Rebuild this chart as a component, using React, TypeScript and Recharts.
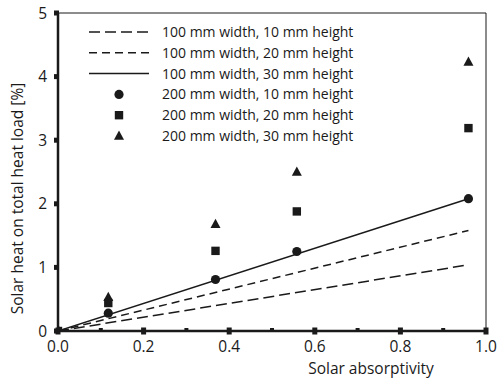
import React from 'react';
import { ComposedChart, Line, Scatter, XAxis, YAxis, ReferenceLine, Legend } from 'recharts';

const xTicks = [0, 0.1, 0.2, 0.3, 0.4, 0.5, 0.6, 0.7, 0.8, 0.9, 1.0];
const xMajorLabels = ['0.0', '', '0.2', '', '0.4', '', '0.6', '', '0.8', '', '1.0'];
const yTicks = [0, 1, 2, 3, 4, 5];

const absorptivity = [0, 0.1175, 0.368, 0.558, 0.959];
const w200h10 = [0, 0.28, 0.81, 1.25, 2.08];
const w200h20 = [0, 0.44, 1.26, 1.88, 3.19];
const w200h30 = [0, 0.53, 1.68, 2.5, 4.23];

const lineX = [0, 0.959];
const w100h10 = [0, 1.04];
const w100h20 = [0, 1.58];
const w100h30 = [0, 2.08];

const legendLabels = [
  '100 mm width, 10 mm height',
  '100 mm width, 20 mm height',
  '100 mm width, 30 mm height',
  '200 mm width, 10 mm height',
  '200 mm width, 20 mm height',
  '200 mm width, 30 mm height',
];

const FONT = "'Open Sans', sans-serif";
const INK = '#1a1a1a';

const toPts = (xs: number[], ys: number[]) => xs.map((x, i) => ({ x, y: ys[i] }));

const lineData10 = toPts(lineX, w100h10);
const lineData20 = toPts(lineX, w100h20);
const lineData30 = toPts(lineX, w100h30);
const scat10 = toPts(absorptivity, w200h10);
const scat20 = toPts(absorptivity, w200h20);
const scat30 = toPts(absorptivity, w200h30);

const Circle = (p: any) => <circle cx={p.cx} cy={p.cy} r={4.6} fill={INK} />;
const Square = (p: any) => <rect x={p.cx - 4.2} y={p.cy - 4.2} width={8.4} height={8.4} fill={INK} />;
const Tri = (p: any) => (
  <polygon points={`${p.cx},${p.cy - 5.5} ${p.cx + 5},${p.cy + 3.8} ${p.cx - 5},${p.cy + 3.8}`} fill={INK} />
);

const XTick = (props: any) => {
  const { x, y, index } = props;
  const label = xMajorLabels[index];
  const major = label !== '';
  return (
    <g>
      {major ? (
        <rect x={x - 2.5} y={y - 3.5} width={5} height={7} fill={INK} />
      ) : (
        <rect x={x - 2} y={y - 3} width={4} height={3} fill={INK} />
      )}
      {major && (
        <text x={x} y={y + 21} textAnchor="middle" fontFamily={FONT} fontSize={15.5} fill={INK}>
          {label}
        </text>
      )}
    </g>
  );
};

const YTick = (props: any) => {
  const { x, y, payload } = props;
  return (
    <g>
      <rect x={x - 4} y={y - 2.5} width={5} height={5} fill={INK} />
      <text x={x - 11} y={y + 5.5} textAnchor="end" fontFamily={FONT} fontSize={15.5} fill={INK}>
        {String(payload.value)}
      </text>
    </g>
  );
};

const LegendContent = () => {
  const rowY = (i: number) => 32 + i * 20.8;
  const x1 = 89;
  const x2 = 149;
  const mx = 119;
  return (
    <svg width={420} height={150} style={{ display: 'block' }}>
      <line x1={x1} y1={rowY(0)} x2={x2} y2={rowY(0)} stroke={INK} strokeWidth={1.5} strokeDasharray="11 5" />
      <line x1={x1} y1={rowY(1)} x2={x2} y2={rowY(1)} stroke={INK} strokeWidth={1.5} strokeDasharray="8 5" />
      <line x1={x1} y1={rowY(2)} x2={x2} y2={rowY(2)} stroke={INK} strokeWidth={1.5} />
      <Circle cx={mx} cy={rowY(3)} />
      <Square cx={mx} cy={rowY(4)} />
      <Tri cx={mx} cy={rowY(5)} />
      {legendLabels.map((t, i) => (
        <text key={t} x={162} y={rowY(i) + 5} fontFamily={FONT} fontSize={14} fill={INK}>
          {t}
        </text>
      ))}
    </svg>
  );
};

export default function App() {
  return (
    <div style={{ position: 'absolute', left: 0, top: 0, width: 500, height: 385, background: '#fff' }}>
      <ComposedChart width={500} height={385} margin={{ top: 13, right: 14, left: 0, bottom: 0 }}>
        <XAxis
          dataKey="x"
          type="number"
          domain={[0, 1]}
          ticks={xTicks}
          interval={0}
          height={54}
          tickSize={0}
          tickMargin={0}
          tickLine={false}
          axisLine={{ stroke: INK, strokeWidth: 2.5 }}
          tick={<XTick />}
          allowDataOverflow
        />
        <YAxis
          dataKey="y"
          type="number"
          domain={[0, 5]}
          ticks={yTicks}
          interval={0}
          width={58}
          tickSize={0}
          tickMargin={0}
          tickLine={false}
          axisLine={{ stroke: INK, strokeWidth: 2.5 }}
          tick={<YTick />}
          allowDataOverflow
        />
        <ReferenceLine y={5} stroke={INK} strokeWidth={1} ifOverflow="visible" />
        <ReferenceLine x={1} stroke={INK} strokeWidth={1} ifOverflow="visible" />
        <Legend
          layout="horizontal"
          verticalAlign="middle"
          align="center"
          wrapperStyle={{ top: 0, left: 0, width: 420, height: 150 }}
          content={<LegendContent />}
        />
        <Line data={lineData10} dataKey="y" type="linear" stroke={INK} strokeWidth={1.5} strokeDasharray="11 5" dot={false} isAnimationActive={false} />
        <Line data={lineData20} dataKey="y" type="linear" stroke={INK} strokeWidth={1.5} strokeDasharray="8 5" dot={false} isAnimationActive={false} />
        <Line data={lineData30} dataKey="y" type="linear" stroke={INK} strokeWidth={1.5} dot={false} isAnimationActive={false} />
        <Scatter data={scat10} dataKey="y" shape={<Circle />} isAnimationActive={false} />
        <Scatter data={scat20} dataKey="y" shape={<Square />} isAnimationActive={false} />
        <Scatter data={scat30} dataKey="y" shape={<Tri />} isAnimationActive={false} />
      </ComposedChart>
      <svg width={500} height={385} style={{ position: 'absolute', left: 0, top: 0, pointerEvents: 'none' }}>
        <text x={371} y={374} textAnchor="middle" fontFamily={FONT} fontSize={15.5} fill={INK}>
          Solar absorptivity
        </text>
        <text
          x={0}
          y={0}
          transform="translate(23,198.5) rotate(-90)"
          textAnchor="middle"
          fontFamily={FONT}
          fontSize={15.5}
          fill={INK}
        >
          Solar heat on total heat load [%]
        </text>
      </svg>
    </div>
  );
}
